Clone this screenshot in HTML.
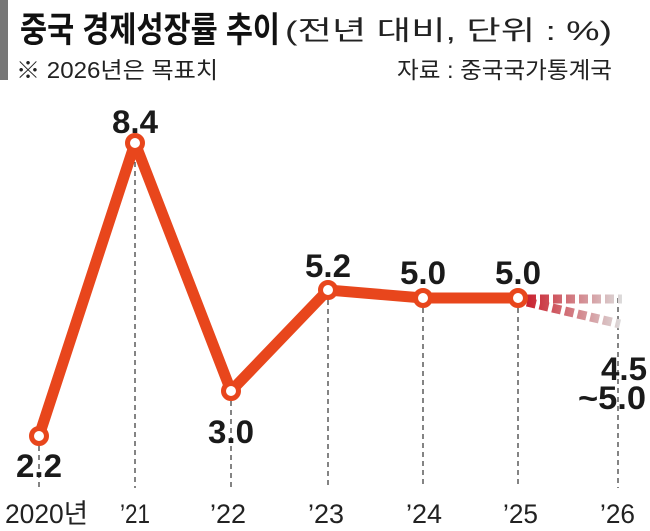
<!DOCTYPE html>
<html><head><meta charset="utf-8"><style>
body{margin:0;background:#fff;}
svg{display:block;}
text{font-family:"Liberation Sans","Noto Sans CJK KR",sans-serif;}
</style></head><body>
<svg width="650" height="531" viewBox="0 0 650 531">
<defs>
<linearGradient id="g" x1="518" y1="0" x2="622" y2="0" gradientUnits="userSpaceOnUse">
<stop offset="0" stop-color="#c8101e"/><stop offset="1" stop-color="#dcdcdc"/></linearGradient>
</defs>
<rect x="0" y="0" width="8" height="80" fill="#777"/>
<text x="20" y="42" font-size="35" font-weight="bold" fill="#111" textLength="260" lengthAdjust="spacingAndGlyphs" font-family="'Noto Sans CJK KR',sans-serif">중국 경제성장률 추이</text>
<text x="285" y="40" font-size="27" fill="#222" textLength="327" lengthAdjust="spacingAndGlyphs" font-family="'Noto Sans CJK KR',sans-serif">(전년 대비, 단위 : %)</text>
<text x="16" y="78" font-size="23" fill="#222" textLength="202" lengthAdjust="spacingAndGlyphs" font-family="'Noto Sans CJK KR',sans-serif">※ 2026년은 목표치</text>
<text x="397" y="78" font-size="23" fill="#222" textLength="215" lengthAdjust="spacingAndGlyphs" font-family="'Noto Sans CJK KR',sans-serif">자료 : 중국국가통계국</text>
<g stroke="#333" stroke-width="1.2" stroke-dasharray="5,4">
<line x1="39" y1="446" x2="39" y2="488"/>
<line x1="135" y1="153" x2="135" y2="488"/>
<line x1="231" y1="401" x2="231" y2="488"/>
<line x1="328" y1="300" x2="328" y2="488"/>
<line x1="423" y1="308" x2="423" y2="488"/>
<line x1="518" y1="308" x2="518" y2="488"/>
<line x1="618" y1="298" x2="618" y2="488"/>
</g>
<g stroke="url(#g)" stroke-width="9" stroke-dasharray="9,4" fill="none">
<line x1="527" y1="299" x2="622" y2="299"/>
<line x1="527" y1="302" x2="620" y2="324"/>
</g>
<polyline points="39,436 135,143 231,391 328,290 423,298 518,298" fill="none" stroke="#e8461c" stroke-width="11" stroke-linejoin="round"/>
<g fill="#fff" stroke="#e8461c" stroke-width="5">
<circle cx="39" cy="436" r="7.5"/><circle cx="135" cy="143" r="7.5"/><circle cx="231" cy="391" r="7.5"/>
<circle cx="328" cy="290" r="7.5"/><circle cx="423" cy="298" r="7.5"/><circle cx="518" cy="298" r="7.5"/>
</g>
<g font-size="32" font-weight="bold" fill="#1a1a1a">
<text x="16" y="477" textLength="46" lengthAdjust="spacingAndGlyphs">2.2</text>
<text x="112" y="133" textLength="46" lengthAdjust="spacingAndGlyphs">8.4</text>
<text x="208" y="443" textLength="46" lengthAdjust="spacingAndGlyphs">3.0</text>
<text x="305" y="277" textLength="46" lengthAdjust="spacingAndGlyphs">5.2</text>
<text x="400" y="284" textLength="46" lengthAdjust="spacingAndGlyphs">5.0</text>
<text x="495" y="284" textLength="46" lengthAdjust="spacingAndGlyphs">5.0</text>
<text x="601" y="380" textLength="46" lengthAdjust="spacingAndGlyphs">4.5</text>
<text x="578" y="409" textLength="68" lengthAdjust="spacingAndGlyphs">~5.0</text>
</g>
<g font-size="27" fill="#222" font-family="'Liberation Sans','Noto Sans CJK KR',sans-serif">
<text x="5" y="523" textLength="83" lengthAdjust="spacingAndGlyphs">2020년</text>
<text x="120" y="523" textLength="30" lengthAdjust="spacingAndGlyphs">’21</text>
<text x="210" y="523" textLength="36" lengthAdjust="spacingAndGlyphs">’22</text>
<text x="308" y="523" textLength="36" lengthAdjust="spacingAndGlyphs">’23</text>
<text x="406" y="523" textLength="36" lengthAdjust="spacingAndGlyphs">’24</text>
<text x="503" y="523" textLength="35" lengthAdjust="spacingAndGlyphs">’25</text>
<text x="600" y="523" textLength="35" lengthAdjust="spacingAndGlyphs">’26</text>
</g>
</svg>
</body></html>
